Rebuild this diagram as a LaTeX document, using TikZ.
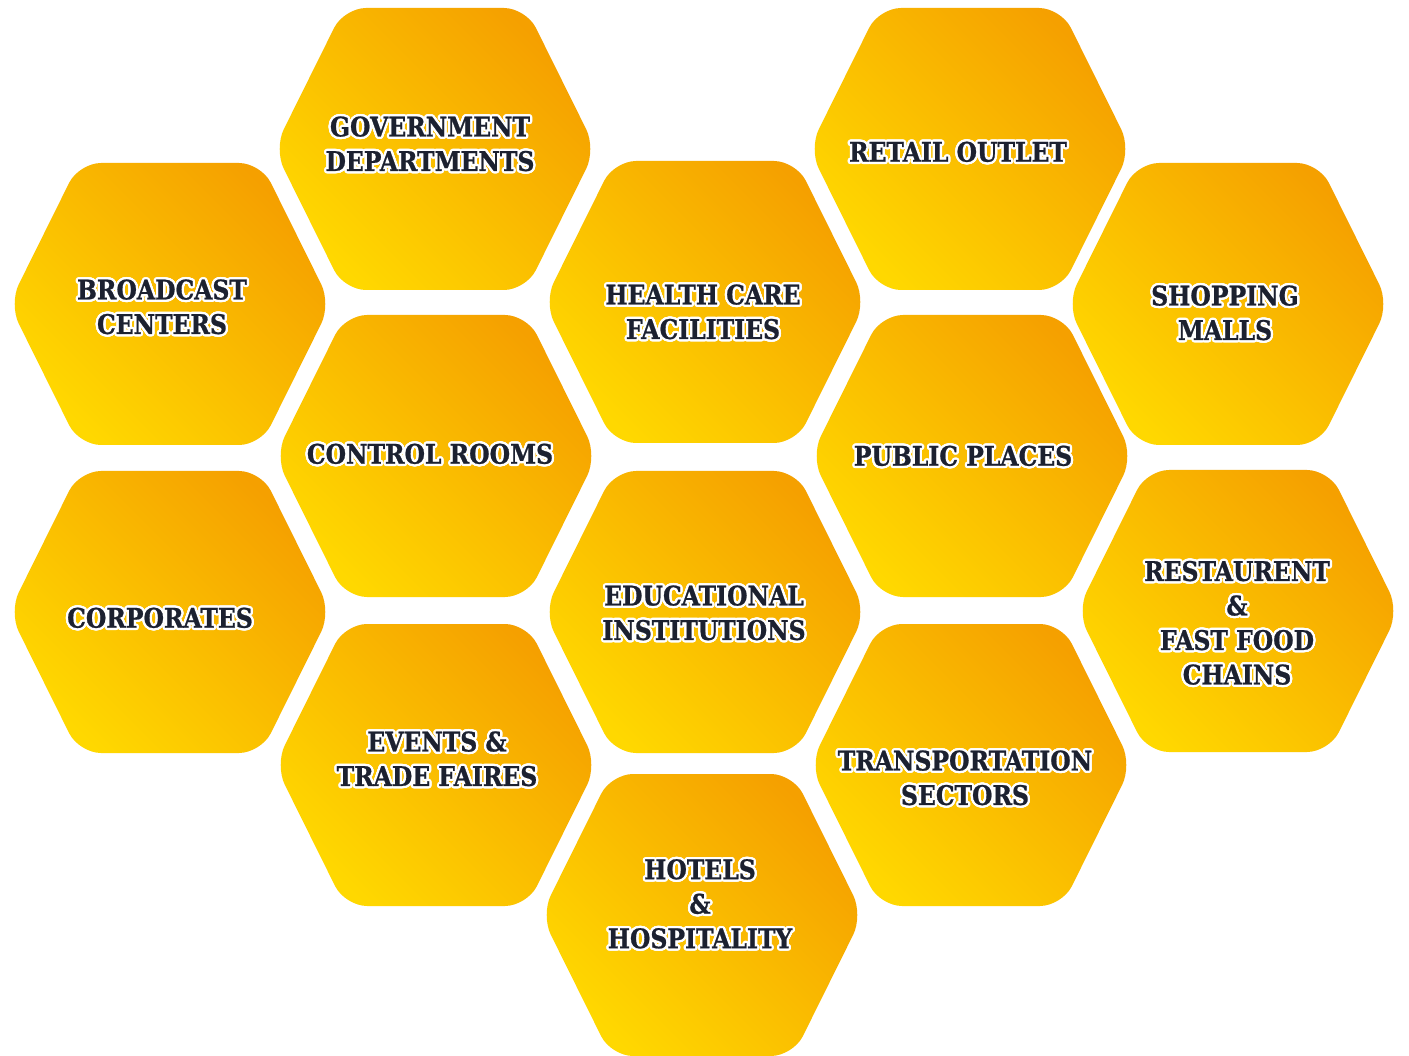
\documentclass[tikz,border=0pt]{standalone}
\usepackage{fontspec}
\usepackage{contour}
\newfontfamily\hexfont{DejaVu Serif}[FakeStretch=0.87,FakeBold=0.8]
\definecolor{hexorange}{RGB}{245,160,0}
\definecolor{hexyellow}{RGB}{255,216,0}
\definecolor{hexink}{RGB}{28,33,48}
\contourlength{2.3pt}
\contournumber{20}
\newcommand{\lbl}[1]{\contour{white}{#1}}
\tikzset{
  hexfill/.style={rounded corners=22pt, top color=hexorange, bottom color=hexyellow, shading angle=-45},
  hexcell/.pic={\path[hexfill] (-161,0)--(-91,-141)--(91,-141)--(161,0)--(91,141)--(-91,141)--cycle;},
  hexlabel/.style={font=\hexfont\bfseries\fontsize{27}{34.5}\selectfont, text=hexink, align=center, inner sep=0pt}
}
\begin{document}
\begin{tikzpicture}[x=1pt,y=-1pt]
\useasboundingbox[fill=white](0,0)rectangle(1409,1056);
% column 1
\pic at (170,304){hexcell};
\pic at (170,612){hexcell};
% column 2
\pic at (435,149){hexcell};
\pic at (436,456){hexcell};
\pic at (436,765){hexcell};
% column 3
\pic at (705,302){hexcell};
\pic at (705,612){hexcell};
\pic at (702,915){hexcell};
% column 4
\pic at (970,149){hexcell};
\pic at (972,456){hexcell};
\pic at (971,765){hexcell};
% column 5
\pic at (1228,304){hexcell};
\pic at (1238,611){hexcell};
% labels
\node[hexlabel](broadcast) at (162,308){\lbl{BROADCAST}\\\lbl{CENTERS}};
\node[hexlabel](corporates) at (160,619){\lbl{CORPORATES}};
\node[hexlabel](government) at (430,145){\lbl{GOVERNMENT}\\\lbl{DEPARTMENTS}};
\node[hexlabel](control) at (430,455){\lbl{CONTROL ROOMS}};
\node[hexlabel](events) at (437,760){\lbl{EVENTS \&}\\\lbl{TRADE FAIRES}};
\node[hexlabel](health) at (703,313){\lbl{HEALTH CARE}\\\lbl{FACILITIES}};
\node[hexlabel](educational) at (704,614){\lbl{EDUCATIONAL}\\\lbl{INSTITUTIONS}};
\node[hexlabel](hotels) at (700,905){\lbl{HOTELS}\\\lbl{\&}\\\lbl{HOSPITALITY}};
\node[hexlabel](retail) at (958,153){\lbl{RETAIL OUTLET}};
\node[hexlabel](public) at (963,457){\lbl{PUBLIC PLACES}};
\node[hexlabel](transport) at (965,779){\lbl{TRANSPORTATION}\\\lbl{SECTORS}};
\node[hexlabel](shopping) at (1225,314){\lbl{SHOPPING}\\\lbl{MALLS}};
\node[hexlabel](restaurant) at (1237,624){\lbl{RESTAURENT}\\\lbl{\&}\\\lbl{FAST FOOD}\\\lbl{CHAINS}};
\end{tikzpicture}
\end{document}
